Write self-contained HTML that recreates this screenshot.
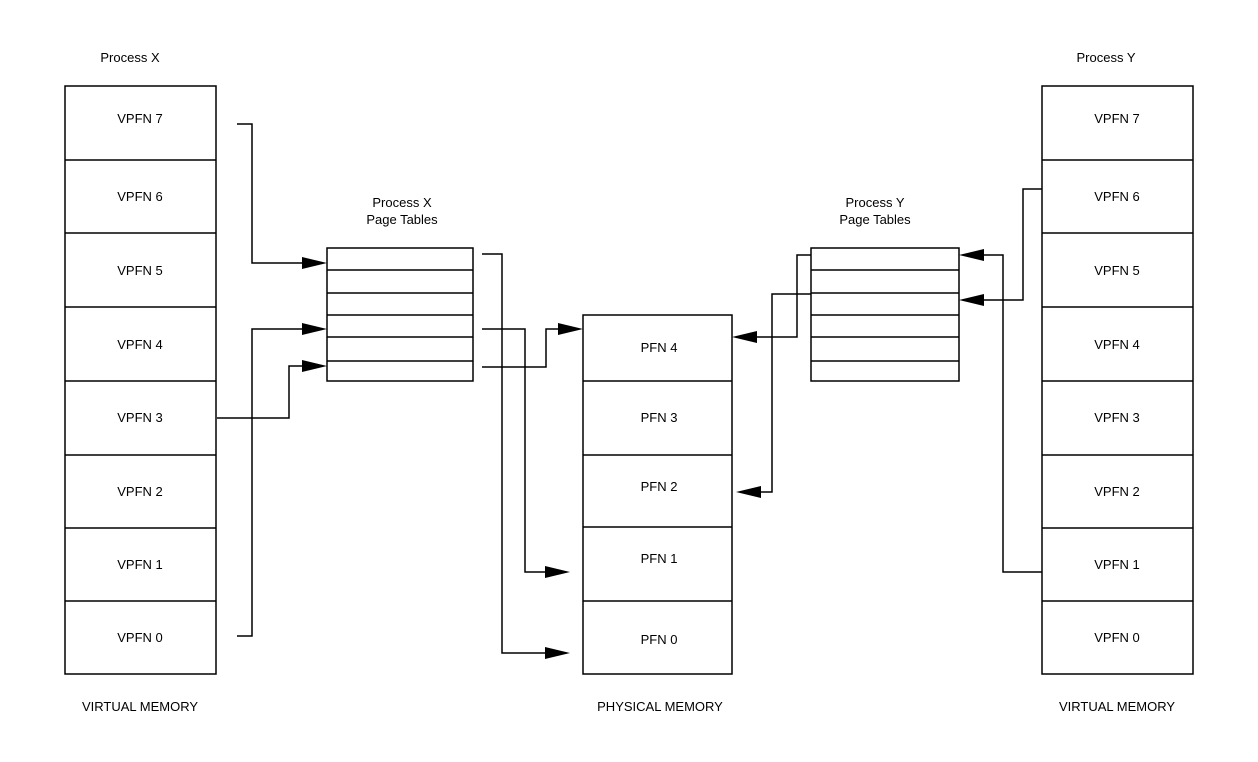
<!DOCTYPE html>
<html><head><meta charset="utf-8"><style>
html,body{margin:0;padding:0;background:#fff;}
svg{display:block;}
text{font-family:"Liberation Sans",sans-serif;font-size:13px;fill:#000;}
</style></head><body>
<svg width="1258" height="762" viewBox="0 0 1258 762" xmlns="http://www.w3.org/2000/svg">
<g stroke="#000" stroke-width="1.5" fill="none">
<!-- Left VM -->
<rect x="65" y="86" width="151" height="588"/>
<path d="M65 160H216M65 233H216M65 307H216M65 381H216M65 455H216M65 528H216M65 601H216"/>
<!-- Right VM -->
<rect x="1042" y="86" width="151" height="588"/>
<path d="M1042 160H1193M1042 233H1193M1042 307H1193M1042 381H1193M1042 455H1193M1042 528H1193M1042 601H1193"/>
<!-- Physical -->
<rect x="583" y="315" width="149" height="359"/>
<path d="M583 381H732M583 455H732M583 527H732M583 601H732"/>
<!-- Table X -->
<rect x="327" y="248" width="146" height="133"/>
<path d="M327 270H473M327 293H473M327 315H473M327 337H473M327 361H473"/>
<!-- Table Y -->
<rect x="811" y="248" width="148" height="133"/>
<path d="M811 270H959M811 293H959M811 315H959M811 337H959M811 361H959"/>
<!-- connectors -->
<path d="M237 124H252V263H310"/>
<path d="M237 636H252V329H310"/>
<path d="M217 418H289V366H310"/>
<path d="M482 254H502V653H552"/>
<path d="M482 329H525V572H552"/>
<path d="M482 367H546V329H566"/>
<path d="M1042 189H1023V300H976"/>
<path d="M1042 572H1003V255H976"/>
<path d="M811 255H797V337H750"/>
<path d="M811 294H772V492H753"/>
</g>
<g fill="#000">
<polygon points="327,263 302,257 302,269"/>
<polygon points="327,329 302,323 302,335"/>
<polygon points="327,366 302,360 302,372"/>
<polygon points="570,653 545,647 545,659"/>
<polygon points="570,572 545,566 545,578"/>
<polygon points="583,329 558,323 558,335"/>
<polygon points="959,255 984,249 984,261"/>
<polygon points="959,300 984,294 984,306"/>
<polygon points="732,337 757,331 757,343"/>
<polygon points="736,492 761,486 761,498"/>
</g>
<g text-anchor="middle">
<text x="130" y="62">Process X</text>
<text x="1106" y="62">Process Y</text>
<text x="402" y="207">Process X</text>
<text x="402" y="224">Page Tables</text>
<text x="875" y="207">Process Y</text>
<text x="875" y="224">Page Tables</text>
<text x="140" y="123">VPFN 7</text>
<text x="140" y="201">VPFN 6</text>
<text x="140" y="275">VPFN 5</text>
<text x="140" y="349">VPFN 4</text>
<text x="140" y="422">VPFN 3</text>
<text x="140" y="496">VPFN 2</text>
<text x="140" y="569">VPFN 1</text>
<text x="140" y="642">VPFN 0</text>
<text x="1117" y="123">VPFN 7</text>
<text x="1117" y="201">VPFN 6</text>
<text x="1117" y="275">VPFN 5</text>
<text x="1117" y="349">VPFN 4</text>
<text x="1117" y="422">VPFN 3</text>
<text x="1117" y="496">VPFN 2</text>
<text x="1117" y="569">VPFN 1</text>
<text x="1117" y="642">VPFN 0</text>
<text x="659" y="352">PFN 4</text>
<text x="659" y="422">PFN 3</text>
<text x="659" y="491">PFN 2</text>
<text x="659" y="563">PFN 1</text>
<text x="659" y="644">PFN 0</text>
<text x="140" y="711">VIRTUAL MEMORY</text>
<text x="660" y="711">PHYSICAL MEMORY</text>
<text x="1117" y="711">VIRTUAL MEMORY</text>
</g>
</svg>
</body></html>
